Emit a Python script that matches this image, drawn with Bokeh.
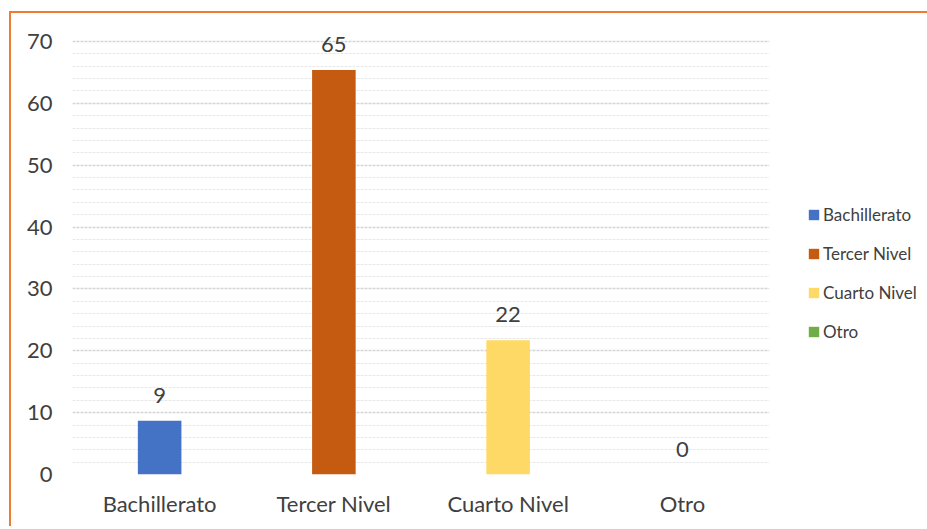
from bokeh.plotting import figure
from bokeh.models import ColumnDataSource, FactorRange, Range1d, LabelSet, Legend, LegendItem, FixedTicker
from bokeh.core.properties import value
from bokeh.embed import file_html
from bokeh.resources import INLINE

categories = ["Bachillerato", "Tercer Nivel", "Cuarto Nivel", "Otro"]
values = [8.7, 65.4, 21.7, 0]
labels = ["9", "65", "22", "0"]
colors = ["#4472C4", "#C55A11", "#FFD966", "#70AD47"]
y_major = [0, 10, 20, 30, 40, 50, 60, 70]
y_minor = [v for v in range(2, 70, 2) if v % 10]

FONT = "Lato"
TXT = "#404040"

src = ColumnDataSource(dict(cat=categories, val=values, lab=labels, col=colors))

p = figure(x_range=FactorRange(*categories), y_range=Range1d(0, 70 * 446 / 433),
           frame_width=697, frame_height=446, output_backend="svg", toolbar_location=None,
           min_border_left=61, min_border_right=155, min_border_top=15, min_border_bottom=52)
p.styles = {"border-top": "2px solid #ED7D31", "border-left": "2px solid #ED7D31",
            "margin-left": "9px", "margin-top": "11px"}
p.outline_line_color = None
p.x_range.range_padding = 0

r = p.vbar(x="cat", top="val", width=0.25, fill_color="col", line_color=None, source=src)

ls = LabelSet(x="cat", y="val", text="lab", source=src, text_align="center",
              text_baseline="alphabetic", y_offset=18, text_font=value(FONT),
              text_font_size="22px", text_color=TXT)
p.add_layout(ls)

p.yaxis.ticker = FixedTicker(ticks=y_major, minor_ticks=y_minor)
p.ygrid.grid_line_color = "#d4d4d4"
p.ygrid.grid_line_dash = "3 1"
p.ygrid.grid_line_width = 1.5
p.ygrid.minor_grid_line_color = "#e8e8e8"
p.ygrid.minor_grid_line_dash = "3 1"
p.xgrid.grid_line_color = None

for ax in (p.xaxis, p.yaxis):
    ax.axis_line_color = None
    ax.major_tick_line_color = None
    ax.minor_tick_line_color = None
    ax.major_label_text_font = FONT
    ax.major_label_text_font_size = "22px"
    ax.major_label_text_color = TXT
p.yaxis.major_label_standoff = 14
p.xaxis.major_label_standoff = 9

items = [LegendItem(label=c, renderers=[r], index=i) for i, c in enumerate(categories)]
legend = Legend(items=items, location=(38, 132), label_text_font=FONT,
                label_text_font_size="17px", label_text_color=TXT,
                glyph_width=13, glyph_height=13, label_standoff=3, spacing=18,
                label_height=20, border_line_color=None, background_fill_alpha=0,
                padding=0, margin=0)
p.add_layout(legend, "right")

open("out.html", "w").write(file_html(p, INLINE))
